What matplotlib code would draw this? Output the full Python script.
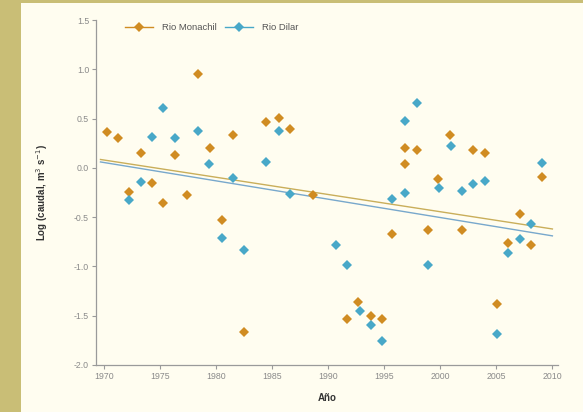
import numpy as np
import matplotlib
matplotlib.use("Agg")
import matplotlib.pyplot as plt
from matplotlib.patches import Rectangle

plt.rcParams["font.family"] = ["Liberation Sans", "DejaVu Sans"]
plt.rcParams["axes.unicode_minus"] = False

# Río Monachil
monachil_years = [1970.3, 1971.25, 1972.2, 1973.3, 1974.3, 1975.3, 1976.35, 1977.4,
                  1978.4, 1979.5, 1980.5, 1981.5, 1982.5, 1984.5, 1985.6, 1986.6,
                  1988.65, 1991.7, 1992.7, 1993.8, 1994.8, 1995.7, 1996.9, 1996.9,
                  1997.9, 1998.9, 1999.8, 2000.9, 2001.9, 2002.9, 2004.0, 2005.1,
                  2006.05, 2007.1, 2008.1, 2009.1]
monachil_log = [0.36, 0.30, -0.24, 0.15, -0.15, -0.36, 0.13, -0.28,
                0.95, 0.20, -0.53, 0.33, -1.67, 0.47, 0.51, 0.39,
                -0.28, -1.53, -1.36, -1.50, -1.53, -0.67, 0.20, 0.04,
                0.18, -0.63, -0.11, 0.33, -0.63, 0.18, 0.15, -1.38,
                -0.76, -0.47, -0.78, -0.09]

# Río Dilar
dilar_years = [1972.2, 1973.3, 1974.3, 1975.3, 1976.35, 1978.4, 1979.4, 1980.5,
               1981.5, 1982.5, 1984.5, 1985.6, 1986.6, 1990.7, 1991.7, 1992.8,
               1993.8, 1994.8, 1995.7, 1996.9, 1996.9, 1997.9, 1998.9, 1999.9,
               2001.0, 2001.9, 2002.9, 2004.0, 2005.1, 2006.05, 2007.1, 2008.1,
               2009.1]
dilar_log = [-0.33, -0.14, 0.31, 0.61, 0.30, 0.37, 0.04, -0.71,
             -0.10, -0.83, 0.06, 0.37, -0.27, -0.78, -0.99, -1.45,
             -1.59, -1.76, -0.32, 0.48, -0.25, 0.66, -0.99, -0.20,
             0.22, -0.23, -0.16, -0.13, -1.69, -0.86, -0.72, -0.57,
             0.05]

# trend lines (end points)
trend_years = [1969.7, 2010.0]
monachil_trend = [0.085, -0.62]
dilar_trend = [0.06, -0.69]

ORANGE = "#D08C22"
BLUE = "#48A8C8"
CREAM = "#FFFDF0"
OLIVE = "#C9BE76"

fig = plt.figure(figsize=(5.83, 4.12), dpi=100)
fig.patch.set_facecolor(OLIVE)
fig.patches.append(Rectangle((21 / 583, 0), 1, (412 - 3) / 412, transform=fig.transFigure,
                             facecolor=CREAM, edgecolor="none", zorder=-10))

ax = fig.add_axes([96 / 583, 1 - 365 / 412, (558 - 96) / 583, (365 - 20) / 412])
ax.set_facecolor(CREAM)

ax.plot(trend_years, monachil_trend, color="#C9AE5A", lw=1.0, zorder=2)
ax.plot(trend_years, dilar_trend, color="#78A8CC", lw=1.0, zorder=2)

ax.plot(monachil_years, monachil_log, "D", color=ORANGE, ms=4.8, mew=0, zorder=3)
ax.plot(dilar_years, dilar_log, "D", color=BLUE, ms=4.8, mew=0, zorder=3)

# legend handles
h1, = ax.plot([], [], "-D", color=ORANGE, ms=4.8, mew=0, lw=1.0, label="Rio Monachil")
h2, = ax.plot([], [], "-D", color=BLUE, ms=4.8, mew=0, lw=1.0, label="Rio Dilar")
leg = ax.legend(handles=[h1, h2], loc="upper left", bbox_to_anchor=(0.045, 1.015), ncol=2,
                frameon=False, fontsize=6.8, handlelength=2.9, columnspacing=0.9,
                handletextpad=1.0)
for t in leg.get_texts():
    t.set_color("#555555")

ax.set_xlim(1969.3, 2010.5)
ax.set_ylim(-2.0, 1.5)
ax.set_xticks(np.arange(1970, 2011, 5))
ax.set_yticks(np.arange(-2.0, 1.51, 0.5))
ax.set_yticklabels([f"{v:.1f}" for v in np.arange(-2.0, 1.51, 0.5)])

for s in ["top", "right"]:
    ax.spines[s].set_visible(False)
for s in ["left", "bottom"]:
    ax.spines[s].set_color("#9A9A9A")
    ax.spines[s].set_linewidth(0.9)
ax.tick_params(colors="#9A9A9A", labelcolor="#8A8A8A", labelsize=6.3, length=3, width=0.8,
               pad=2)

ax.set_xlabel("Año", fontsize=7, fontweight="bold", color="#333333", labelpad=9)
ax.set_ylabel("Log (caudal, m$^{3}$ s$^{-1}$)", fontsize=7, fontweight="bold",
              color="#333333", labelpad=17)

fig.savefig("out.png", dpi=100, facecolor=fig.get_facecolor())
